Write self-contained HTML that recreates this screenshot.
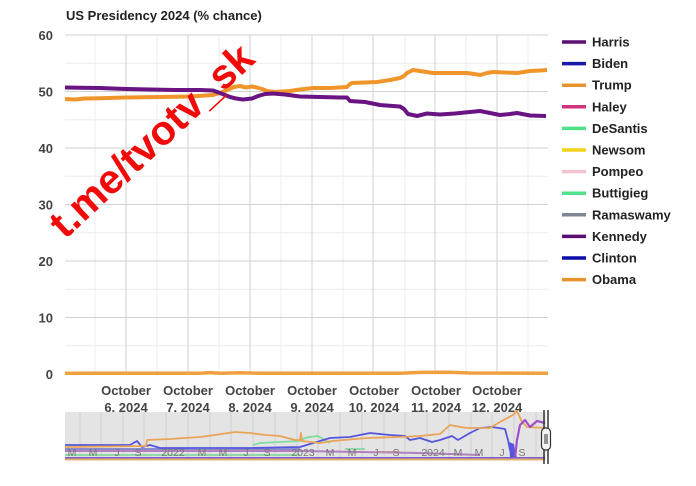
<!DOCTYPE html>
<html><head><meta charset="utf-8"><style>
html,body{margin:0;padding:0;background:#fff;}
svg{display:block;}
text{font-family:"Liberation Sans",Arial,sans-serif;}
</style></head><body>
<svg width="696" height="486" viewBox="0 0 696 486" xmlns="http://www.w3.org/2000/svg">
<rect width="696" height="486" fill="#fff"/>
<text x="66" y="20" font-size="13" font-weight="bold" fill="#222">US Presidency 2024 (% chance)</text>

<!-- minor grid -->
<g stroke="#ececec" stroke-width="1">
<line x1="65" x2="548" y1="63.25" y2="63.25"/><line x1="65" x2="548" y1="119.75" y2="119.75"/>
<line x1="65" x2="548" y1="176.25" y2="176.25"/><line x1="65" x2="548" y1="232.75" y2="232.75"/>
<line x1="65" x2="548" y1="289.25" y2="289.25"/><line x1="65" x2="548" y1="345.75" y2="345.75"/>
<line y1="35" y2="374" x1="95" x2="95"/><line y1="35" y2="374" x1="157" x2="157"/>
<line y1="35" y2="374" x1="219" x2="219"/><line y1="35" y2="374" x1="281" x2="281"/>
<line y1="35" y2="374" x1="343" x2="343"/><line y1="35" y2="374" x1="405" x2="405"/>
<line y1="35" y2="374" x1="466" x2="466"/><line y1="35" y2="374" x1="528" x2="528"/>
</g>
<g stroke="#d2d2d2" stroke-width="1">
<line x1="65" x2="548" y1="35" y2="35"/><line x1="65" x2="548" y1="91.5" y2="91.5"/>
<line x1="65" x2="548" y1="148" y2="148"/><line x1="65" x2="548" y1="204.5" y2="204.5"/>
<line x1="65" x2="548" y1="261" y2="261"/><line x1="65" x2="548" y1="317.5" y2="317.5"/>
<line y1="35" y2="374" x1="126" x2="126"/><line y1="35" y2="374" x1="188" x2="188"/>
<line y1="35" y2="374" x1="250" x2="250"/><line y1="35" y2="374" x1="312" x2="312"/>
<line y1="35" y2="374" x1="373" x2="373"/><line y1="35" y2="374" x1="435" x2="435"/>
<line y1="35" y2="374" x1="497" x2="497"/>
</g>

<!-- y labels -->
<g font-size="13" font-weight="bold" fill="#444" text-anchor="end">
<text x="53" y="40">60</text><text x="53" y="96.5">50</text><text x="53" y="153">40</text>
<text x="53" y="209.5">30</text><text x="53" y="266">20</text><text x="53" y="322.5">10</text>
<text x="53" y="379">0</text>
</g>

<!-- zero line -->
<polyline fill="none" stroke="#f0a040" stroke-width="3.5" points="65,373.3 200,373.3 210,372.6 220,373.2 240,372.8 260,373.3 400,373.2 420,372.4 450,372.3 470,373 548,373.3"/>

<!-- Trump -->
<polyline fill="none" stroke="#f0952a" stroke-width="4" stroke-linejoin="round" points="65,99 75,99.5 85,98.5 100,98.3 126,97.5 160,97 190,96.5 213,95 220,93 227,90 234,87 240,86 246,87.5 252,86.5 257,87.5 262,89 267,91 275,92 282,91.5 290,91 300,89.5 313,88 330,88 347,87 350,84 352,83 365,82.5 377,82 390,80 400,78 404,76 407,73 413,70 420,71 433,73 450,73 467,73 474,74 480,75 487,73 493,72 505,72.5 517,73 530,71 540,70.5 547,70"/>
<!-- Harris -->
<polyline fill="none" stroke="#6a1483" stroke-width="4" stroke-linejoin="round" points="65,87.5 80,87.7 100,88 126,89 150,89.5 175,90 200,90 213,90.5 220,93 230,97 236,98.5 243,99.5 252,98.5 258,96 265,94 273,93.5 285,94.5 300,96.5 320,97 340,97.5 347,97.5 350,101 365,102 380,105 400,106.5 404,109 408,114 417,116 427,113.5 440,114.5 455,113.5 470,112 480,111 490,113 500,115 510,114 517,113 530,115.5 546,116"/>

<!-- x labels -->
<g font-size="13" font-weight="bold" fill="#444" text-anchor="middle">
<text x="126" y="395">October</text><text x="126" y="412">6, 2024</text>
<text x="188" y="395">October</text><text x="188" y="412">7, 2024</text>
<text x="250" y="395">October</text><text x="250" y="412">8, 2024</text>
<text x="312" y="395">October</text><text x="312" y="412">9, 2024</text>
<text x="374" y="395">October</text><text x="374" y="412">10, 2024</text>
<text x="436" y="395">October</text><text x="436" y="412">11, 2024</text>
<text x="497" y="395">October</text><text x="497" y="412">12, 2024</text>
</g>

<!-- navigator -->
<rect x="65" y="412" width="481" height="48" fill="#e4e4e4"/>
<g stroke="#d0d0d0" stroke-width="1">
<line x1="80" x2="80" y1="412" y2="460"/><line x1="101" x2="101" y1="412" y2="460"/>
<line x1="123" x2="123" y1="412" y2="460"/><line x1="144" x2="144" y1="412" y2="460"/>
<line x1="166" x2="166" y1="412" y2="460"/><line x1="188" x2="188" y1="412" y2="460"/>
<line x1="210" x2="210" y1="412" y2="460"/><line x1="231" x2="231" y1="412" y2="460"/>
<line x1="253" x2="253" y1="412" y2="460"/><line x1="275" x2="275" y1="412" y2="460"/>
<line x1="297" x2="297" y1="412" y2="460"/><line x1="318" x2="318" y1="412" y2="460"/>
<line x1="340" x2="340" y1="412" y2="460"/><line x1="362" x2="362" y1="412" y2="460"/>
<line x1="384" x2="384" y1="412" y2="460"/><line x1="405" x2="405" y1="412" y2="460"/>
<line x1="427" x2="427" y1="412" y2="460"/><line x1="449" x2="449" y1="412" y2="460"/>
<line x1="471" x2="471" y1="412" y2="460"/><line x1="492" x2="492" y1="412" y2="460"/>
<line x1="514" x2="514" y1="412" y2="460"/><line x1="536" x2="536" y1="412" y2="460"/>
</g>
<polyline fill="none" stroke="#8a8acc" stroke-width="2" points="65,449 160,449 200,450 300,449"/>
<polyline fill="none" stroke="#b080c0" stroke-width="2" points="65,451 300,451 360,452 420,453 480,455"/>
<polyline fill="none" stroke="#90d8a8" stroke-width="2" points="65,455 300,455"/>
<polyline fill="none" stroke="#90d8a8" stroke-width="2" points="345,449 365,449"/>
<polyline fill="none" stroke="#c090a8" stroke-width="2" points="375,452 400,452"/>
<polyline fill="none" stroke="#7b5ec8" stroke-width="2" points="65,458 545,458"/>
<polyline fill="none" stroke="#e0b070" stroke-width="2" points="65,459.5 545,459.5"/>
<polyline fill="none" stroke="#80dca0" stroke-width="1.8" points="253,445 260,443 280,442 300,441 305,438 310,437 318,436 325,440 330,443"/>
<polyline fill="none" stroke="#5656dc" stroke-width="1.8" stroke-linejoin="round" points="65,445 100,445 130,445 137,441 142,447 150,445 160,448 250,448 300,447 310,444 330,438 350,437 370,433 390,435 405,436 410,440 420,438 432,442 440,440 452,436 458,440 470,433 480,428 492,427 505,429 508,440 510,450 512,455 515,452 516,458"/>
<path d="M509,442 L514,444 L516,457 L510,458 Z" fill="#5656dc"/>
<polyline fill="none" stroke="#e8a458" stroke-width="1.8" stroke-linejoin="round" points="65,447 146,446 147,440 170,439 200,437 215,435 235,432 250,433 265,435 280,436 295,440 300,440 301,433 302,441 320,443 333,441 367,438 400,437 420,436 440,434 450,425 455,426 467,428 490,428 500,422 513,415 517,411 522,422 527,427 545,428"/>
<polyline fill="none" stroke="#a050c8" stroke-width="2.2" stroke-linejoin="round" points="515,458 517,440 520,425 525,420 530,427 537,421 545,423"/>
<g font-size="10.5" fill="#777" text-anchor="middle">
<text x="72" y="456">M</text><text x="93" y="456">M</text><text x="117" y="456">J</text><text x="138" y="456">S</text>
<text x="173" y="456">2022</text><text x="202" y="456">M</text><text x="223" y="456">M</text><text x="246" y="456">J</text><text x="267" y="456">S</text>
<text x="303" y="456">2023</text><text x="330" y="456">M</text><text x="352" y="456">M</text><text x="376" y="456">J</text><text x="396" y="456">S</text>
<text x="433" y="456">2024</text><text x="458" y="456">M</text><text x="479" y="456">M</text><text x="502" y="456">J</text><text x="522" y="456">S</text>
</g>
<line x1="544" x2="544" y1="410" y2="464" stroke="#333" stroke-width="1.5"/>
<line x1="548" x2="548" y1="410" y2="464" stroke="#333" stroke-width="1.5"/>
<rect x="541.5" y="428" width="9" height="22" rx="4" fill="#f4f4f4" stroke="#333" stroke-width="1.2"/>
<line x1="545" x2="545" y1="434" y2="444" stroke="#333" stroke-width="1"/>
<line x1="547" x2="547" y1="434" y2="444" stroke="#333" stroke-width="1"/>

<!-- legend -->
<g stroke-width="3.5">
<line x1="562" x2="586" y1="42" y2="42" stroke="#5c0f73"/>
<line x1="562" x2="586" y1="63.6" y2="63.6" stroke="#1a1aa8"/>
<line x1="562" x2="586" y1="85.2" y2="85.2" stroke="#e8932b"/>
<line x1="562" x2="586" y1="106.8" y2="106.8" stroke="#d4317b"/>
<line x1="562" x2="586" y1="128.4" y2="128.4" stroke="#4ee28a"/>
<line x1="562" x2="586" y1="150" y2="150" stroke="#f2d41c"/>
<line x1="562" x2="586" y1="171.6" y2="171.6" stroke="#f5c3cf"/>
<line x1="562" x2="586" y1="193.2" y2="193.2" stroke="#4ee28a"/>
<line x1="562" x2="586" y1="214.8" y2="214.8" stroke="#7d8794"/>
<line x1="562" x2="586" y1="236.4" y2="236.4" stroke="#5c0f73"/>
<line x1="562" x2="586" y1="258" y2="258" stroke="#0d0da8"/>
<line x1="562" x2="586" y1="279.6" y2="279.6" stroke="#e8932b"/>
</g>
<g font-size="13" font-weight="bold" fill="#222">
<text x="592" y="46.5">Harris</text><text x="592" y="68.1">Biden</text><text x="592" y="89.7">Trump</text>
<text x="592" y="111.3">Haley</text><text x="592" y="132.9">DeSantis</text><text x="592" y="154.5">Newsom</text>
<text x="592" y="176.1">Pompeo</text><text x="592" y="197.7">Buttigieg</text><text x="592" y="219.3">Ramaswamy</text>
<text x="592" y="240.9">Kennedy</text><text x="592" y="262.5">Clinton</text><text x="592" y="284.1">Obama</text>
</g>

<!-- watermark -->
<text x="0" y="0" transform="translate(65,240) rotate(-43)" font-size="41" font-weight="bold" fill="#f00a0a">t.me/tvotv_sk</text>
</svg>
</body></html>
